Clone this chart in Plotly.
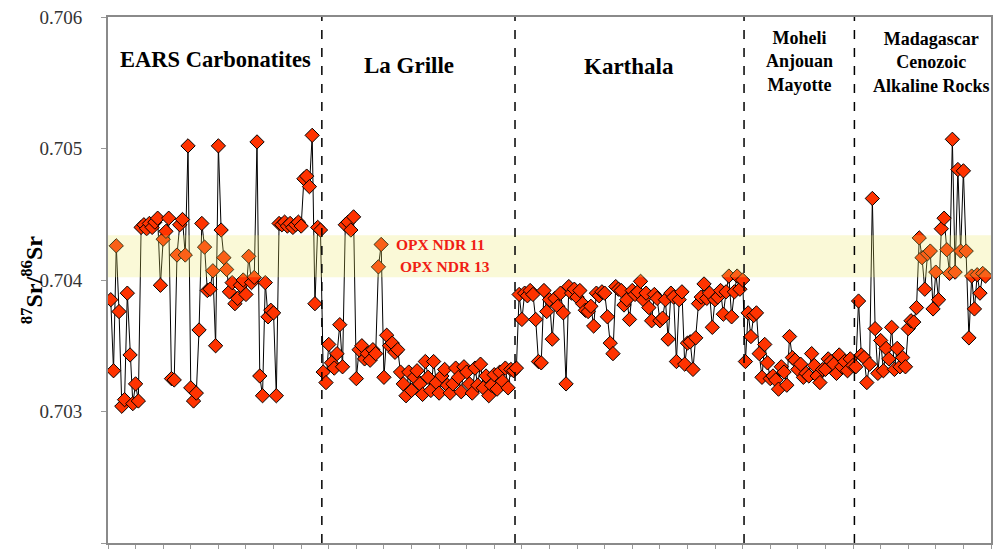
import plotly.graph_objects as go

# 87Sr/86Sr ratios, grouped by suite (in plotting order)
ears = [0.70385, 0.70331, 0.70426, 0.70376, 0.70304, 0.70309, 0.70390, 0.70343, 0.70306, 0.70321,
        0.70308, 0.70440, 0.70442, 0.70439, 0.70443, 0.70440, 0.70444, 0.70447, 0.70396, 0.70431,
        0.70437, 0.70447, 0.70325, 0.70324, 0.70419, 0.70442, 0.70446, 0.70419, 0.70502, 0.70318,
        0.70308, 0.70314, 0.70362, 0.70443, 0.70425, 0.70392, 0.70393, 0.70407, 0.70350, 0.70502,
        0.70438, 0.70417, 0.70408, 0.70391, 0.70398, 0.70382, 0.70386, 0.70396, 0.70400, 0.70389,
        0.70418, 0.70398, 0.70402, 0.70505, 0.70327, 0.70312, 0.70398, 0.70372, 0.70377, 0.70375,
        0.70312, 0.70443, 0.70442, 0.70444, 0.70441, 0.70443, 0.70440, 0.70442, 0.70444, 0.70441,
        0.70477, 0.70479, 0.70471, 0.70510, 0.70382, 0.70440, 0.70438]

la_grille = [0.70330, 0.70322, 0.70351, 0.70337, 0.70333, 0.70344, 0.70366, 0.70334, 0.70442, 0.70444,
             0.70438, 0.70448, 0.70325, 0.70347, 0.70350, 0.70340, 0.70344, 0.70339, 0.70347, 0.70344,
             0.70410, 0.70427, 0.70326, 0.70358, 0.70350, 0.70352, 0.70345, 0.70347, 0.70330,
             0.70321, 0.70312, 0.70330, 0.70316, 0.70326, 0.70331, 0.70321, 0.70313, 0.70338, 0.70326,
             0.70316, 0.70338, 0.70322, 0.70314, 0.70327, 0.70332, 0.70320, 0.70314, 0.70321, 0.70333,
             0.70326, 0.70315, 0.70334, 0.70330, 0.70321, 0.70314, 0.70333, 0.70320, 0.70336, 0.70318,
             0.70327, 0.70312, 0.70320, 0.70328, 0.70317, 0.70330, 0.70323, 0.70333, 0.70318, 0.70332,
             0.70331]

karthala = [0.70333, 0.70389, 0.70370, 0.70390, 0.70388, 0.70392, 0.70389, 0.70370, 0.70338, 0.70337,
            0.70392, 0.70376, 0.70385, 0.70355, 0.70386, 0.70380, 0.70390, 0.70375, 0.70321, 0.70395,
            0.70390, 0.70393, 0.70387, 0.70392, 0.70382, 0.70377, 0.70376, 0.70380, 0.70365, 0.70390,
            0.70388, 0.70391, 0.70390, 0.70372, 0.70352, 0.70344, 0.70395, 0.70393, 0.70392, 0.70381,
            0.70385, 0.70370, 0.70392, 0.70389, 0.70391, 0.70399, 0.70385, 0.70390, 0.70379, 0.70369,
            0.70389, 0.70386, 0.70369, 0.70371, 0.70385, 0.70355, 0.70390, 0.70387, 0.70338, 0.70385,
            0.70391, 0.70336, 0.70352, 0.70353, 0.70332, 0.70356, 0.70382, 0.70387, 0.70397, 0.70386,
            0.70390, 0.70364, 0.70385, 0.70387, 0.70392, 0.70374, 0.70391, 0.70403, 0.70372, 0.70391,
            0.70403, 0.70393, 0.70400]

comoros = [0.70338, 0.70375, 0.70357, 0.70373, 0.70375, 0.70344, 0.70326, 0.70351, 0.70337, 0.70325,
           0.70327, 0.70324, 0.70317, 0.70334, 0.70330, 0.70320, 0.70357, 0.70341, 0.70339, 0.70332,
           0.70336, 0.70326, 0.70329, 0.70327, 0.70344, 0.70335, 0.70327, 0.70322, 0.70332, 0.70332,
           0.70340, 0.70338, 0.70336, 0.70329, 0.70343, 0.70334, 0.70338, 0.70331, 0.70340, 0.70335]

madagascar = [0.70334, 0.70384, 0.70343, 0.70341, 0.70322, 0.70336, 0.70462, 0.70363, 0.70329, 0.70354,
              0.70331, 0.70348, 0.70340, 0.70364, 0.70332, 0.70348, 0.70334, 0.70341, 0.70334, 0.70363,
              0.70369, 0.70368, 0.70379, 0.70432, 0.70417, 0.70393, 0.70420, 0.70422, 0.70378, 0.70406,
              0.70385, 0.70439, 0.70447, 0.70423, 0.70405, 0.70507, 0.70406, 0.70484, 0.70422, 0.70483,
              0.70422, 0.70356, 0.70403, 0.70378, 0.70404, 0.70390, 0.70405, 0.70403]

groups = [ears, la_grille, karthala, comoros, madagascar]
group_labels = ["EARS Carbonatites", "La Grille", "Karthala",
                "Moheli<br>Anjouan<br>Mayotte", "Madagascar<br>Cenozoic<br>Alkaline Rocks"]
y_ticks = [0.702, 0.703, 0.704, 0.705, 0.706]
band = (0.70402, 0.70434)
opx_labels = ["OPX NDR 11", "OPX NDR 13"]

values = [v for g in groups for v in g]
xs = list(range(1, len(values) + 1))

# group boundaries (half-way between last and first sample of adjacent suites)
bounds = []
n = 0
for g in groups[:-1]:
    n += len(g)
    bounds.append(n + 0.5)

SERIF = "Liberation Serif, Times New Roman, serif"

fig = go.Figure()
fig.add_trace(go.Scatter(
    x=xs, y=values, mode="lines+markers",
    line=dict(color="black", width=1),
    marker=dict(symbol="diamond", size=11, color="#ff3300",
                line=dict(color="black", width=1)),
    hoverinfo="y", showlegend=False,
))

shapes = [dict(type="rect", xref="paper", yref="y", x0=0, x1=1, y0=band[0], y1=band[1],
               fillcolor="rgba(235,231,95,0.25)", line=dict(width=0), layer="above")]
for b in bounds:
    shapes.append(dict(type="line", xref="x", yref="paper", x0=b, x1=b, y0=0, y1=1,
                       line=dict(color="black", width=1.5, dash="dash"), layer="above"))

annotations = []
label_pos = [(38.8, 0.70568, 22.5), (109, 0.70563, 23), (188.7, 0.70562, 23),
             (250.5, 0.705665, 18), (298.5, 0.705655, 18)]
for text, (x, y, s) in zip(group_labels, label_pos):
    annotations.append(dict(x=x, y=y, xref="x", yref="y", text="<b>%s</b>" % text,
                            showarrow=False, font=dict(family=SERIF, size=s, color="black"),
                            align="center", xanchor="center", yanchor="middle"))

# the two orthopyroxene samples of La Grille (samples 21 and 22 of that suite)
i13 = len(ears) + 21
i11 = len(ears) + 22
annotations.append(dict(x=i11 + 4.5, y=values[i11 - 1], xref="x", yref="y",
                        text="<b>%s</b>" % opx_labels[0], showarrow=False, xanchor="left",
                        font=dict(family=SERIF, size=15.5, color="#f01e14")))
annotations.append(dict(x=i13 + 7.0, y=values[i13 - 1], xref="x", yref="y",
                        text="<b>%s</b>" % opx_labels[1], showarrow=False, xanchor="left",
                        font=dict(family=SERIF, size=15.5, color="#f01e14")))

annotations.append(dict(x=-0.105, y=0.5, xref="paper", yref="paper", textangle=-90,
                        text="<b><sup>87</sup>Sr/<sup>86</sup>Sr</b>", showarrow=False,
                        font=dict(family=SERIF, size=24, color="black")))

fig.update_layout(
    width=994, height=550,
    margin=dict(l=108, r=1, t=17, b=7),
    plot_bgcolor="white", paper_bgcolor="white",
    shapes=shapes, annotations=annotations,
    xaxis=dict(range=[0, 320], dtick=10, tick0=0, showticklabels=False, ticks="outside",
               ticklen=4, tickcolor="#999", showgrid=False, zeroline=False,
               showline=True, linecolor="#8a8a8a", linewidth=2, mirror=True),
    yaxis=dict(range=[0.702, 0.706], tickvals=y_ticks, ticktext=["%.3f" % v for v in y_ticks],
               ticks="outside", ticklen=5, tickcolor="#999", showgrid=False, zeroline=False,
               showline=True, linecolor="#8a8a8a", linewidth=2, mirror=True,
               ticklabelstandoff=15,
               tickfont=dict(family=SERIF, size=19, color="#333")),
)

fig.write_html("out.html")
